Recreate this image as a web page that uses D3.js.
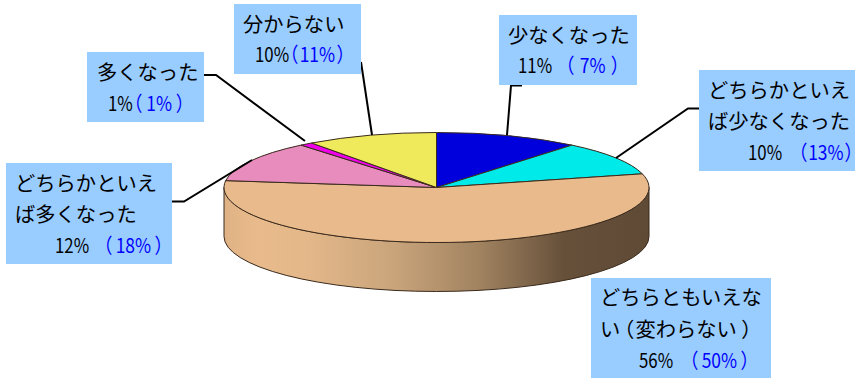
<!DOCTYPE html>
<html lang="ja">
<head>
<meta charset="utf-8">
<script src="https://cdn.jsdelivr.net/npm/d3@7/dist/d3.min.js"></script>
<style>
  html, body { margin: 0; padding: 0; background: #fff; }
  svg { display: block; }
  text { font-family: "Noto Sans CJK JP", "Noto Sans", sans-serif; }
  .tight { font-feature-settings: "palt"; }
</style>
</head>
<body>
<div id="chart"></div>
<script>
// Survey answers, clockwise from twelve o'clock
const categories = ["少なくなった", "どちらかといえば少なくなった", "どちらともいえない（変わらない）", "どちらかといえば多くなった", "多くなった", "分からない"];
const currentValues = [11, 10, 56, 12, 1, 10];
const previousValues = [7, 13, 50, 18, 1, 11];
const sliceColors = ["#0000dd", "#00eaea", "#e9bb8c", "#e78cbc", "#f000e8", "#eeea5c"];

// Wrapped label lines for each category
const labelLines = [
  ["少なくなった"],
  ["どちらかといえ", "ば少なくなった"],
  ["どちらともいえな", "い（変わらない）"],
  ["どちらかといえ", "ば多くなった"],
  ["多くなった"],
  ["分からない"]
];

// Callout layout per category: box, text anchors, bracket padding and leader line
const callouts = [
  { box: [499, 15, 138, 70], x: 508, lineY: [43], valueX: 518, priorX: 565, pad: 6, valueY: 73, leader: [[522, 85.5], [511, 85.5], [507, 135]] },
  { box: [699, 70, 156, 101], x: 708, lineY: [98, 129], valueX: 748, priorX: 798, pad: 1.5, valueY: 160, leader: [[699, 108.5], [688, 108.5], [616, 158]] },
  { box: [591, 278, 180, 100], x: 600, lineY: [305, 337], valueX: 639, priorX: 689, pad: 4, valueY: 368, leader: null },
  { box: [6, 163, 166, 101], x: 15, lineY: [191, 222], valueX: 55, priorX: 103, pad: 4, valueY: 253, leader: [[172, 201.5], [184, 201.5], [252, 160]] },
  { box: [87, 52, 117, 70], x: 97, lineY: [80], valueX: 108, priorX: 133, pad: 4.5, valueY: 111, leader: [[204, 75], [216, 75], [305, 141]] },
  { box: [234, 4, 127, 70], x: 243, lineY: [32], valueX: 255, priorX: 289, pad: 2, valueY: 62, leader: [[361, 62], [372, 135]] }
];

const width = 855, height = 378;
const cx = 436.5, cy = 187.5, rx = 212.5, ry = 55, depth = 49;
const percentSize = 20.5, valueSquash = 0.82, priorSquash = 0.85;

const svg = d3.select("#chart").append("svg")
  .attr("width", width).attr("height", height)
  .attr("viewBox", [0, 0, width, height]);

// Horizontal shading of the cylinder wall
const grad = svg.append("defs").append("linearGradient")
  .attr("id", "wall").attr("x1", 0).attr("x2", 1).attr("y1", 0).attr("y2", 0);
[[0, "#dfb285"], [0.08, "#e9bb8c"], [0.2, "#e3b789"], [0.4, "#c9a47b"], [0.6, "#a18360"], [0.8, "#66503a"], [1, "#5f4a36"]]
  .forEach(([o, c]) => grad.append("stop").attr("offset", o).attr("stop-color", c));

// Wall of the disc: front half of the ellipse extruded downward
const wallD = `M${cx - rx},${cy} L${cx - rx},${cy + depth} A${rx},${ry} 0 0 0 ${cx + rx},${cy + depth} L${cx + rx},${cy} A${rx},${ry} 0 0 1 ${cx - rx},${cy} Z`;
svg.append("path")
  .attr("d", wallD)
  .attr("fill", "url(#wall)")
  .attr("stroke", "#3a2a1c")
  .attr("stroke-width", 1);

// Top face: ordinary pie squashed into an ellipse
const pie = d3.pie().sort(null).value(d => d.value);
const arc = d3.arc().innerRadius(0).outerRadius(rx);
const slices = pie(categories.map((c, i) => ({ category: c, value: currentValues[i], color: sliceColors[i] })));

svg.append("g")
  .attr("transform", `translate(${cx},${cy}) scale(1,${ry / rx})`)
  .selectAll("path")
  .data(slices)
  .join("path")
  .attr("d", arc)
  .attr("fill", d => d.data.color)
  .attr("stroke", "#3a2a1c")
  .attr("stroke-width", 1)
  .attr("vector-effect", "non-scaling-stroke");

// Leader lines from boxes to slices
const leaderLine = d3.line();
svg.append("g").selectAll("path")
  .data(callouts.filter(c => c.leader))
  .join("path")
  .attr("d", d => leaderLine(d.leader))
  .attr("fill", "none")
  .attr("stroke", "#000")
  .attr("stroke-width", 2);

// Callout boxes with category name, current share and earlier share in brackets
const groups = svg.append("g").selectAll("g")
  .data(callouts)
  .join("g");

groups.append("rect")
  .attr("x", d => d.box[0]).attr("y", d => d.box[1])
  .attr("width", d => d.box[2]).attr("height", d => d.box[3])
  .attr("fill", "#99ccff");

// Brackets inside a label line are proportional, with a little air set by hand
const bracketGap = { "（": 3, "）": 5 };

groups.each(function (d, i) {
  const g = d3.select(this);
  labelLines[i].forEach((line, j) => {
    const t = g.append("text")
      .attr("x", d.x).attr("y", d.lineY[j])
      .attr("font-size", 20.3)
      .attr("fill", "#000");
    line.split(/([（）])/).filter(Boolean).forEach((part, k, parts) => {
      const span = t.append("tspan").text(part);
      if (bracketGap[part]) span.attr("class", "tight").attr("dx", bracketGap[part]);
      else if (parts[k - 1] === "（") span.attr("dx", 2);
    });
  });
  g.append("text")
    .attr("transform", `translate(${d.valueX},${d.valueY}) scale(${valueSquash},1)`)
    .attr("font-size", percentSize)
    .attr("fill", "#000")
    .text(`${currentValues[i]}%`);
  const prior = g.append("text")
    .attr("class", "tight")
    .attr("transform", `translate(${d.priorX},${d.valueY}) scale(${priorSquash},1)`)
    .attr("font-size", percentSize)
    .attr("fill", "#0000ff");
  prior.append("tspan").text("（");
  prior.append("tspan").attr("dx", d.pad / priorSquash).text(`${previousValues[i]}%`);
  prior.append("tspan").attr("dx", d.pad / priorSquash).text("）");
});
</script>
</body>
</html>
